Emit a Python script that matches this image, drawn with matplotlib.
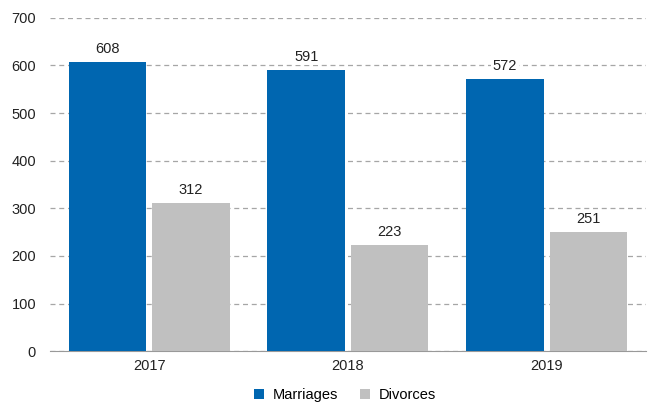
import matplotlib
matplotlib.use("Agg")
import matplotlib.pyplot as plt
import numpy as np

years = ["2017", "2018", "2019"]
marriages = [608, 591, 572]
divorces = [312, 223, 251]
yticks = [0, 100, 200, 300, 400, 500, 600, 700]

plt.rcParams['font.family'] = ['Liberation Sans', 'DejaVu Sans']
plt.rcParams['font.size'] = 10.5

fig = plt.figure(figsize=(6.48, 4.05), dpi=100)
ax = fig.add_axes([0.077, 0.133, 0.92, 0.823])

x = np.arange(len(years))
w = 0.39
off = 0.21
b1 = ax.bar(x - off, marriages, w, color="#0066B0", label="Marriages", zorder=3)
b2 = ax.bar(x + off, divorces, w, color="#C0C0C0", label="Divorces", zorder=3)

for bars, vals in ((b1, marriages), (b2, divorces)):
    for r, v in zip(bars, vals):
        ax.text(r.get_x() + r.get_width() / 2, v + 12, str(v), ha="center", va="bottom",
                fontsize=10.5, color="#222222", zorder=4,
                bbox=dict(facecolor="white", edgecolor="none", pad=1.0))

ax.set_xlim(-0.5, 2.5)
ax.set_ylim(0, 700)
ax.set_yticks(yticks)
ax.set_xticks(x)
ax.set_xticklabels(years)
ax.yaxis.grid(True, linestyle=(0, (4, 3)), color="#A6A6A6", linewidth=0.9, zorder=0)
for s in ["top", "right", "left"]:
    ax.spines[s].set_visible(False)
ax.spines["bottom"].set_color("#999999")
ax.tick_params(axis="both", length=0, colors="#222222", labelsize=10.5)
ax.tick_params(axis="y", pad=10)
ax.tick_params(axis="x", pad=6)

fig.legend(handles=[b1, b2], loc="center", bbox_to_anchor=(0.532, 0.025), ncol=2, frameon=False,
           handlelength=0.7, handleheight=0.7, handletextpad=0.6, columnspacing=1.5,
           fontsize=10.5, borderaxespad=0, borderpad=0)

fig.savefig("out.png", dpi=100)
